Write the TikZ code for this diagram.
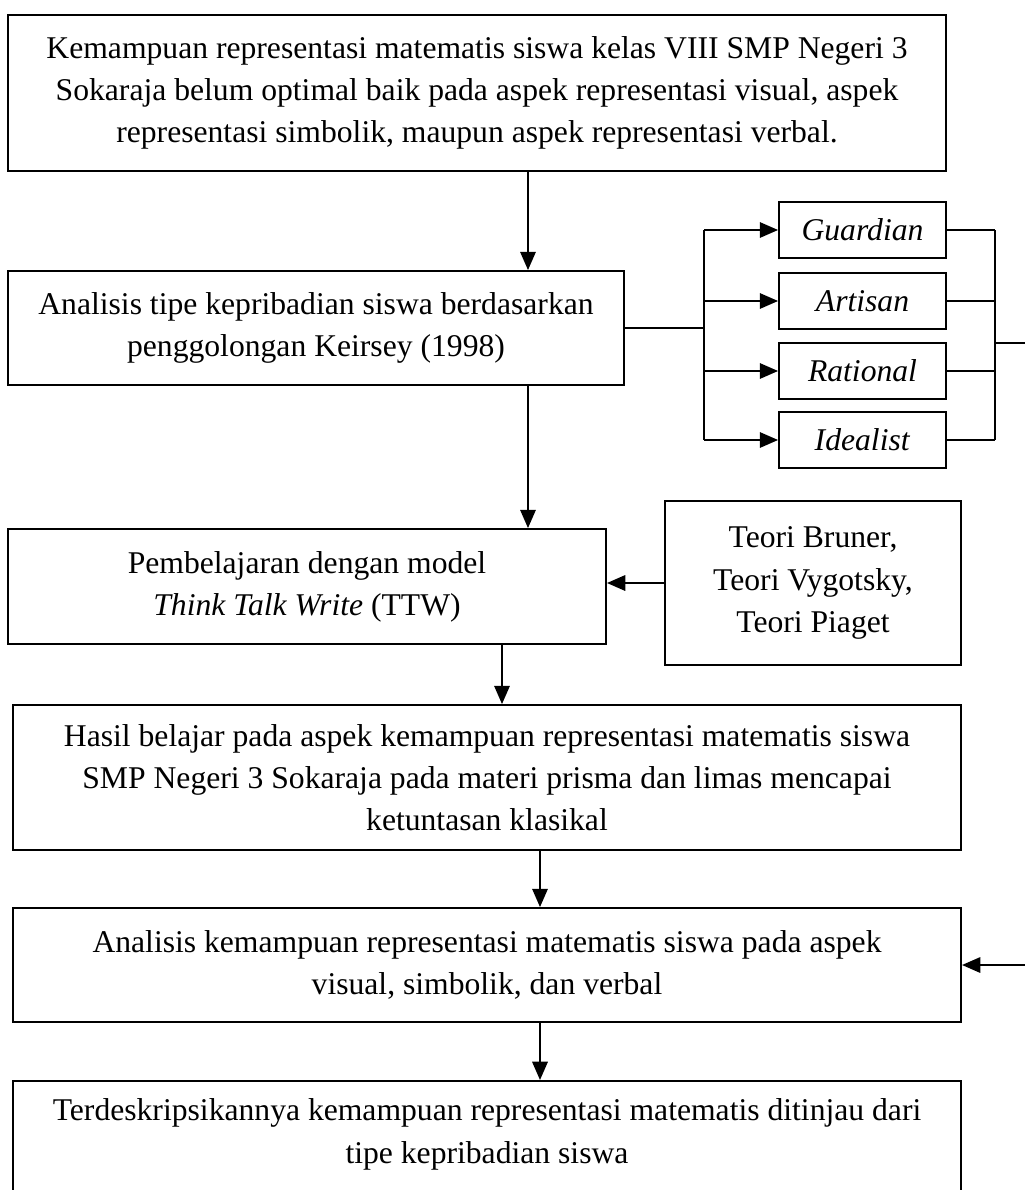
\documentclass[tikz,border=0pt]{standalone}
\usepackage{fontspec}
\setmainfont{Liberation Serif}
\usetikzlibrary{arrows.meta,positioning,calc}

\begin{document}
\begin{tikzpicture}[x=0.025cm,y=-0.025cm,line width=1.3pt,
  box/.style={draw,align=center,inner sep=0pt,font=\fontsize{22.5}{30}\selectfont},
  tipe/.style={box,minimum width=4.175cm,minimum height=1.4cm},
  arr/.style={-{Triangle[length=13pt,width=11pt]}}]
\useasboundingbox (0,0) rectangle (1025,1190);
\clip (0,0) rectangle (1025,1190);
% main column
\node[box,minimum width=23.45cm,minimum height=3.9cm] (masalah) at (477,93)
  {Kemampuan representasi matematis siswa kelas VIII SMP Negeri 3\\Sokaraja belum optimal baik pada aspek representasi visual, aspek\\representasi simbolik, maupun aspek representasi verbal.};
\node[box,minimum width=15.4cm,minimum height=2.85cm] (keirsey) at (316,328)
  {Analisis tipe kepribadian siswa berdasarkan\\penggolongan Keirsey (1998)};
\node[box,minimum width=14.95cm,minimum height=2.875cm] (ttw) at (307,586.5)
  {Pembelajaran dengan model\\\textit{Think Talk Write} (TTW)};
\node[box,minimum width=7.4cm,minimum height=4.1cm] (teori) at (813,583)
  {Teori Bruner,\\Teori Vygotsky,\\Teori Piaget};
\node[box,minimum width=23.7cm,minimum height=3.625cm] (hasil) at (487,777.5)
  {Hasil belajar pada aspek kemampuan representasi matematis siswa\\SMP Negeri 3 Sokaraja pada materi prisma dan limas mencapai\\ketuntasan klasikal};
\node[box,minimum width=23.7cm,minimum height=2.85cm] (analisis) at (487,965)
  {Analisis kemampuan representasi matematis siswa pada aspek\\visual, simbolik, dan verbal};
\node[box,minimum width=23.7cm,inner ysep=0.45cm,text depth=2.5cm,anchor=north] (deskripsi) at (487,1080)
  {Terdeskripsikannya kemampuan representasi matematis ditinjau dari\\tipe kepribadian siswa};
% personality types
\foreach \n/\t/\y in {guardian/Guardian/230,artisan/Artisan/301,rational/Rational/371,idealist/Idealist/440}
  \node[tipe] (\n) at (862.5,\y) {\textit{\t}};
\coordinate (cabang) at (704,0);
\coordinate (gabung) at (995,343);
\coordinate (a1) at (528,0);
\coordinate (a2) at (502,0);
\coordinate (a3) at (540,0);
% connectors
\draw[arr] (masalah.south -| a1) -- (keirsey.north -| a1);
\draw[arr] (keirsey.south -| a1) -- (ttw.north -| a1);
\draw[arr] (ttw.south -| a2) -- (hasil.north -| a2);
\draw[arr] (hasil.south -| a3) -- (analisis.north -| a3);
\draw[arr] (analisis.south -| a3) -- (deskripsi.north -| a3);
\draw[arr] (teori.west) -- (ttw.east |- teori.west);
\draw (keirsey.east) -- (cabang |- keirsey.east);
\draw (cabang |- guardian.west) -- (cabang |- idealist.west);
\draw (gabung |- guardian.east) -- (gabung |- idealist.east);
\foreach \n in {guardian,artisan,rational,idealist}{
  \draw[arr] (cabang |- \n.west) -- (\n.west);
  \draw (\n.east) -- (gabung |- \n.east);
}
\draw[arr] (gabung) -- ++(45,0) |- (analisis.east);
\end{tikzpicture}
\end{document}
